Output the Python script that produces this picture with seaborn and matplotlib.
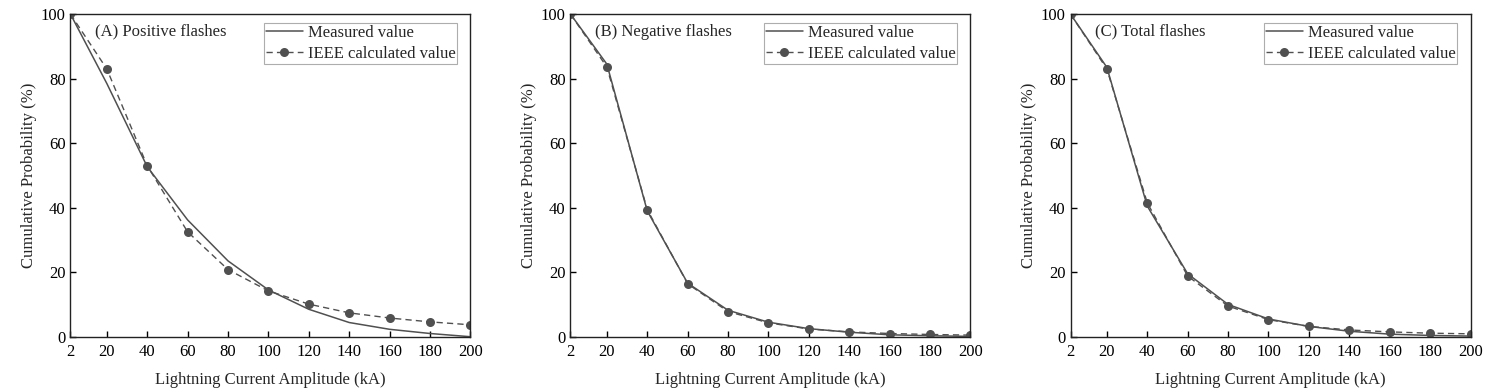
import numpy as np
import pandas as pd
import matplotlib
matplotlib.use("Agg")
import matplotlib.pyplot as plt
import seaborn as sns

# current amplitude (kA)
amp = [2, 20, 40, 60, 80, 100, 120, 140, 160, 180, 200]

# (A) positive flashes
pos_measured = [100, 78.5, 52.7, 36.2, 23.5, 14.5, 8.5, 4.4, 2.3, 1.0, 0.0]
pos_ieee = [100, 83.0, 53.0, 32.5, 20.8, 14.2, 10.1, 7.4, 5.8, 4.6, 3.7]

# (B) negative flashes
neg_measured = [100, 84.5, 39.0, 16.6, 8.2, 4.5, 2.5, 1.4, 0.6, 0.3, 0.1]
neg_ieee = [100, 83.6, 39.4, 16.4, 7.8, 4.3, 2.4, 1.5, 1.0, 0.7, 0.5]

# (C) total flashes
tot_measured = [100, 83.5, 40.5, 19.5, 10.0, 5.5, 3.2, 1.7, 0.8, 0.4, 0.2]
tot_ieee = [100, 83.0, 41.5, 18.8, 9.5, 5.3, 3.2, 2.1, 1.5, 1.1, 0.9]

titles = ["(A) Positive flashes", "(B) Negative flashes", "(C) Total flashes"]
panels = [(pos_measured, pos_ieee), (neg_measured, neg_ieee), (tot_measured, tot_ieee)]
xticks = [2, 20, 40, 60, 80, 100, 120, 140, 160, 180, 200]

sns.set_style("white")
plt.rcParams["font.family"] = ["Liberation Serif", "DejaVu Serif"]
fs = 12

col = "#505050"

fig, axes = plt.subplots(1, 3, figsize=(14.99, 3.92), dpi=100)
fig.subplots_adjust(left=0.047, right=0.981, bottom=0.141, top=0.964, wspace=0.25)

for ax, title, (meas, ieee) in zip(axes, titles, panels):
    df = pd.DataFrame({"amp": amp, "measured": meas, "ieee": ieee})
    sns.lineplot(data=df, x="amp", y="measured", ax=ax, color=col, lw=1.1,
                 label="Measured value")
    sns.lineplot(data=df, x="amp", y="ieee", ax=ax, color=col, lw=1.0,
                 linestyle=(0, (4.5, 3)), marker="o", markersize=6.5,
                 markeredgewidth=0, label="IEEE calculated value")
    ax.set_xlim(2, 200)
    ax.set_ylim(0, 100)
    ax.set_xticks(xticks)
    ax.set_yticks([0, 20, 40, 60, 80, 100])
    ax.tick_params(direction="in", length=4.5, width=1.0, bottom=True, left=True,
                   top=False, right=False, labelsize=fs, colors="black")
    ax.tick_params(axis="x", pad=5)
    for s in ax.spines.values():
        s.set_color("#222222")
        s.set_linewidth(1.0)
    ax.set_xlabel("Lightning Current Amplitude (kA)", fontsize=fs, labelpad=9)
    ax.set_ylabel("Cumulative Probability (%)", fontsize=fs, labelpad=3)
    ax.text(0.061, 0.945, title, transform=ax.transAxes, ha="left", va="center",
            fontsize=fs)
    leg = ax.legend(loc="upper right", bbox_to_anchor=(0.967, 0.973), fontsize=fs,
                    frameon=True, fancybox=False, handlelength=2.2,
                    borderpad=0.12, labelspacing=0.3, handletextpad=0.3,
                    borderaxespad=0.0)
    leg.get_frame().set_edgecolor("#999999")
    leg.get_frame().set_linewidth(0.8)

fig.savefig("out.png", dpi=100)
